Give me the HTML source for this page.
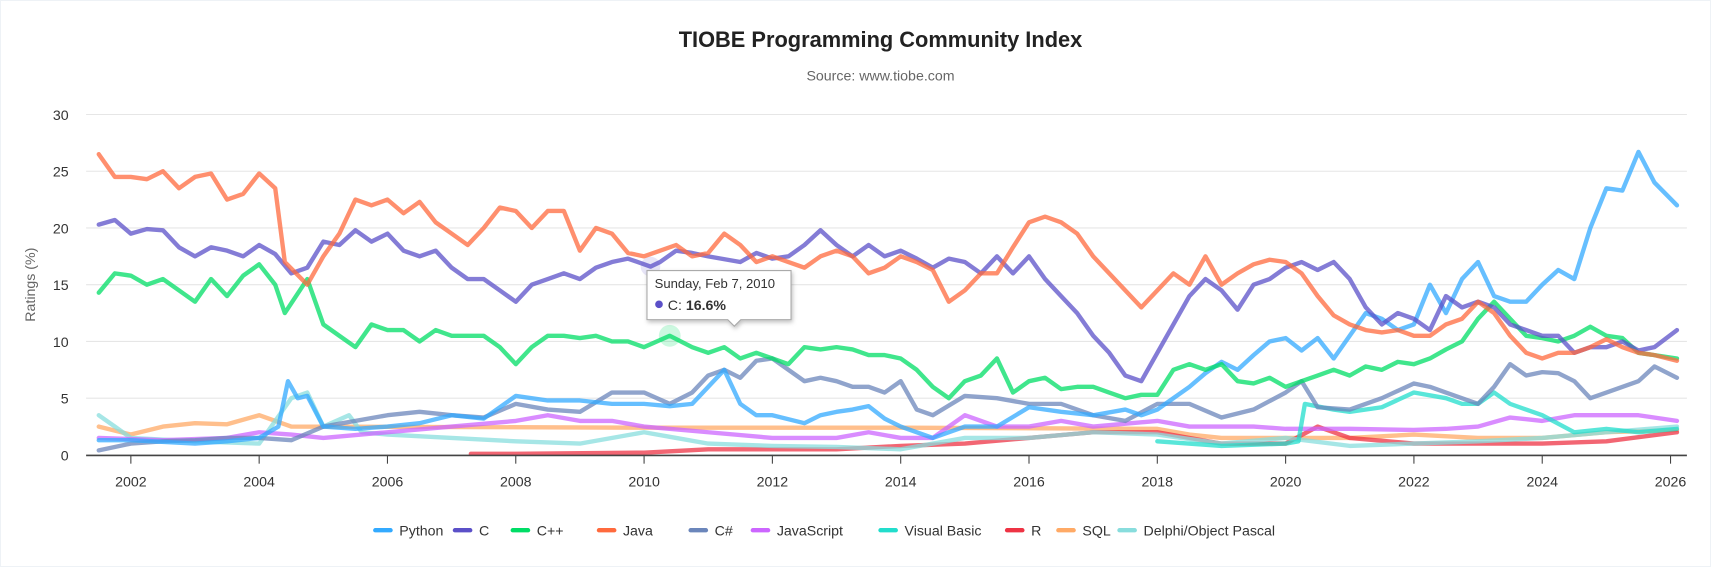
<!DOCTYPE html>
<html><head><meta charset="utf-8"><style>
html,body{margin:0;padding:0;background:#fff;}
body{width:1711px;height:567px;overflow:hidden;font-family:"Liberation Sans",sans-serif;}
#wrap{position:absolute;left:0;top:0;width:1709px;height:565px;border:1px solid #eef2f6;}
svg{position:absolute;left:0;top:0;}
</style></head><body>
<div id="wrap">
<svg id="chart" width="1711" height="567" viewBox="0 0 1568 519.6">
<text x="806" y="42" text-anchor="middle" font-size="20" font-weight="bold" fill="#222">TIOBE Programming Community Index</text>
<text x="806" y="73" text-anchor="middle" font-size="13" fill="#666">Source: www.tiobe.com</text>
<text transform="translate(31,260) rotate(-90)" text-anchor="middle" font-size="13" fill="#666">Ratings (%)</text>
<g id="grid"></g><g id="series"></g><g id="xaxis"></g><g id="legend"></g><g id="tip"></g>
</svg>
</div>
<script>
const yTicks=[0,5,10,15,20,25,30];
const xTicks=[2002,2004,2006,2008,2010,2012,2014,2016,2018,2020,2022,2024,2026];
const seriesNames=["Python","C","C++","Java","C#","JavaScript","Visual Basic","R","SQL","Delphi/Object Pascal"];
const seriesColors=["#33aaff","#5b50c8","#00dd66","#ff6a3d","#6b86bb","#cc66ff","#22ddcc","#ee3344","#ffaa66","#88dddd"];

const javaX=[2001.5,2001.75,2002,2002.25,2002.5,2002.75,2003,2003.25,2003.5,2003.75,2004,2004.25,2004.4,2004.75,2005,2005.25,2005.5,2005.75,2006,2006.25,2006.5,2006.75,2007,2007.25,2007.5,2007.75,2008,2008.25,2008.5,2008.75,2009,2009.25,2009.5,2009.75,2010,2010.25,2010.5,2010.75,2011,2011.25,2011.5,2011.75,2012,2012.25,2012.5,2012.75,2013,2013.25,2013.5,2013.75,2014,2014.25,2014.5,2014.75,2015,2015.25,2015.5,2015.75,2016,2016.25,2016.5,2016.75,2017,2017.25,2017.5,2017.75,2018,2018.25,2018.5,2018.75,2019,2019.25,2019.5,2019.75,2020,2020.25,2020.5,2020.75,2021,2021.25,2021.5,2021.75,2022,2022.25,2022.5,2022.75,2023,2023.25,2023.5,2023.75,2024,2024.25,2024.5,2024.75,2025,2025.25,2025.5,2025.75,2026.1];
const javaY=[26.5,24.5,24.5,24.3,25,23.5,24.5,24.8,22.5,23,24.8,23.5,17,15,17.5,19.5,22.5,22,22.5,21.3,22.3,20.5,19.5,18.5,20,21.8,21.5,20,21.5,21.5,18,20,19.5,17.8,17.5,18,18.5,17.5,17.8,19.5,18.5,17,17.5,17,16.5,17.5,18,17.5,16,16.5,17.5,17,16.3,13.5,14.5,16,16,18.3,20.5,21,20.5,19.5,17.5,16,14.5,13,14.5,16,15,17.5,15,16,16.8,17.2,17,16,14,12.3,11.5,11,10.8,11,10.5,10.5,11.5,12,13.5,12.5,10.5,9,8.5,9,9,9.5,10.2,9.5,9,8.8,8.3];

const cX=[2001.5,2001.75,2002,2002.25,2002.5,2002.75,2003,2003.25,2003.5,2003.75,2004,2004.25,2004.5,2004.75,2005,2005.25,2005.5,2005.75,2006,2006.25,2006.5,2006.75,2007,2007.25,2007.5,2007.75,2008,2008.25,2008.5,2008.75,2009,2009.25,2009.5,2009.75,2010.1,2010.25,2010.5,2010.75,2011,2011.5,2011.75,2012,2012.25,2012.5,2012.75,2013,2013.25,2013.5,2013.75,2014,2014.25,2014.5,2014.75,2015,2015.25,2015.5,2015.75,2016,2016.25,2016.5,2016.75,2017,2017.25,2017.5,2017.75,2018,2018.25,2018.5,2018.75,2019,2019.25,2019.5,2019.75,2020,2020.25,2020.5,2020.75,2021,2021.25,2021.5,2021.75,2022,2022.25,2022.5,2022.75,2023,2023.25,2023.5,2023.75,2024,2024.25,2024.5,2024.75,2025,2025.25,2025.5,2025.75,2026.1];
const cY=[20.3,20.7,19.5,19.9,19.8,18.3,17.5,18.3,18,17.5,18.5,17.7,16,16.5,18.8,18.5,19.8,18.8,19.5,18,17.5,18,16.5,15.5,15.5,14.5,13.5,15,15.5,16,15.5,16.5,17,17.3,16.6,17,18,17.8,17.5,17,17.8,17.3,17.5,18.5,19.8,18.5,17.5,18.5,17.5,18,17.3,16.5,17.3,17,16,17.5,16,17.5,15.5,14,12.5,10.5,9,7,6.5,9,11.5,14,15.5,14.5,12.8,15,15.5,16.5,17,16.3,17,15.5,13,11.5,12.5,12,11,14,13,13.5,13,11.5,11,10.5,10.5,9,9.5,9.5,10,9.2,9.5,11];

const cppX=[2001.5,2001.75,2002,2002.25,2002.5,2002.75,2003,2003.25,2003.5,2003.75,2004,2004.25,2004.4,2004.75,2005,2005.25,2005.5,2005.75,2006,2006.25,2006.5,2006.75,2007,2007.25,2007.5,2007.75,2008,2008.25,2008.5,2008.75,2009,2009.25,2009.5,2009.75,2010,2010.4,2010.75,2011,2011.25,2011.5,2011.75,2012,2012.25,2012.5,2012.75,2013,2013.25,2013.5,2013.75,2014,2014.25,2014.5,2014.75,2015,2015.25,2015.5,2015.75,2016,2016.25,2016.5,2016.75,2017,2017.25,2017.5,2017.75,2018,2018.25,2018.5,2018.75,2019,2019.25,2019.5,2019.75,2020,2020.25,2020.5,2020.75,2021,2021.25,2021.5,2021.75,2022,2022.25,2022.5,2022.75,2023,2023.25,2023.5,2023.75,2024,2024.25,2024.5,2024.75,2025,2025.25,2025.5,2025.75,2026.1];
const cppY=[14.3,16,15.8,15,15.5,14.5,13.5,15.5,14,15.8,16.8,15,12.5,15.5,11.5,10.5,9.5,11.5,11,11,10,11,10.5,10.5,10.5,9.5,8,9.5,10.5,10.5,10.3,10.5,10,10,9.5,10.5,9.5,9,9.5,8.5,9,8.5,8,9.5,9.3,9.5,9.3,8.8,8.8,8.5,7.5,6,5,6.5,7,8.5,5.5,6.5,6.8,5.8,6,6,5.5,5,5.3,5.3,7.5,8,7.5,8,6.5,6.3,6.8,6,6.5,7,7.5,7,7.8,7.5,8.2,8,8.5,9.3,10,12,13.5,12,10.5,10.3,10,10.5,11.3,10.5,10.3,9,8.8,8.5];

const pyX=[2001.5,2002,2003,2003.5,2004,2004.3,2004.45,2004.6,2004.75,2005,2005.5,2006,2006.5,2007,2007.5,2008,2008.5,2009,2009.5,2010,2010.4,2010.75,2011,2011.25,2011.5,2011.75,2012,2012.5,2012.75,2013,2013.25,2013.5,2013.75,2014,2014.5,2015,2015.5,2016,2016.5,2017,2017.5,2017.75,2018,2018.25,2018.5,2018.75,2019,2019.25,2019.5,2019.75,2020,2020.25,2020.5,2020.75,2021,2021.25,2021.5,2021.75,2022,2022.25,2022.5,2022.75,2023,2023.25,2023.5,2023.75,2024,2024.25,2024.5,2024.75,2025,2025.25,2025.5,2025.75,2026.1];
const pyY=[1.3,1.3,1.0,1.2,1.5,2.5,6.5,5,5.2,2.5,2.3,2.5,2.8,3.5,3.2,5.2,4.8,4.8,4.5,4.5,4.3,4.5,6,7.5,4.5,3.5,3.5,2.8,3.5,3.8,4,4.3,3.2,2.5,1.5,2.5,2.5,4.2,3.8,3.5,4,3.5,4,5,6,7.2,8.2,7.5,8.8,10,10.3,9.2,10.3,8.5,10.5,12.5,12,11,11.5,15,12.5,15.5,17,14,13.5,13.5,15,16.3,15.5,20,23.5,23.3,26.7,24,22];

const csX=[2001.5,2002,2002.5,2003,2003.5,2004,2004.5,2005,2005.5,2006,2006.5,2007,2007.5,2008,2008.5,2009,2009.5,2010,2010.4,2010.75,2011,2011.25,2011.5,2011.75,2012,2012.25,2012.5,2012.75,2013,2013.25,2013.5,2013.75,2014,2014.25,2014.5,2015,2015.5,2016,2016.5,2017,2017.5,2018,2018.5,2019,2019.5,2020,2020.25,2020.5,2021,2021.5,2022,2022.25,2022.5,2023,2023.25,2023.5,2023.75,2024,2024.25,2024.5,2024.75,2025,2025.5,2025.75,2026.1];
const csY=[0.4,1.0,1.2,1.3,1.5,1.5,1.3,2.5,3,3.5,3.8,3.5,3.3,4.5,4,3.8,5.5,5.5,4.5,5.5,7,7.5,6.8,8.3,8.5,7.5,6.5,6.8,6.5,6,6,5.5,6.5,4,3.5,5.2,5,4.5,4.5,3.5,3,4.5,4.5,3.3,4,5.5,6.5,4.2,4,5,6.3,6,5.5,4.5,6,8,7,7.3,7.2,6.5,5,5.5,6.5,7.8,6.8];

const jsX=[2001.5,2002.5,2003.5,2004,2004.5,2005,2006,2007,2008,2008.5,2009,2009.5,2010,2011,2012,2013,2013.5,2014,2014.5,2015,2015.5,2016,2016.5,2017,2018,2018.5,2019,2019.5,2020,2020.5,2021,2022,2022.5,2023,2023.5,2024,2024.5,2025,2025.5,2026.1];
const jsY=[1.5,1.3,1.5,2,1.8,1.5,2,2.5,3,3.5,3,3,2.5,2,1.5,1.5,2,1.5,1.5,3.5,2.5,2.5,3,2.5,3,2.5,2.5,2.5,2.3,2.3,2.3,2.2,2.3,2.5,3.3,3,3.5,3.5,3.5,3];

const vbX=[2018,2019,2020,2020.2,2020.3,2020.75,2021,2021.5,2022,2022.5,2022.75,2023,2023.25,2023.5,2024,2024.5,2025,2025.5,2026.1];
const vbY=[1.2,0.8,1.0,1.2,4.5,4,3.8,4.2,5.5,5,4.5,4.5,5.5,4.5,3.5,2.0,2.3,2.0,2.3];

const rX=[2007.3,2008,2010,2011,2012,2013,2014,2015,2016,2017,2018,2019,2020,2020.5,2021,2022,2023,2024,2025,2026.1];
const rY=[0.1,0.1,0.2,0.5,0.5,0.5,0.8,1.0,1.5,2.0,2.0,1.0,1.0,2.5,1.5,1.0,1.0,1.0,1.2,2.0];

const sqlX=[2001.5,2002,2002.5,2003,2003.5,2004,2004.5,2010,2014,2018,2018.5,2019,2020,2021,2022,2023,2024,2025,2026.1];
const sqlY=[2.5,1.8,2.5,2.8,2.7,3.5,2.5,2.4,2.4,2.3,1.8,1.5,1.5,1.5,1.8,1.5,1.5,2,2.2];

const delX=[2001.5,2001.75,2002,2003,2004,2004.5,2004.75,2005,2005.4,2005.6,2006,2007,2008,2009,2010,2010.5,2011,2012,2013,2014,2015,2016,2017,2018,2019,2020,2021,2022,2023,2024,2025,2026.1];
const delY=[3.5,2.5,1.5,1.2,1.0,5,5.5,2.5,3.5,2,1.8,1.5,1.2,1.0,2.0,1.5,1.0,0.8,0.7,0.5,1.5,1.5,2.0,1.8,1.0,1.5,0.8,1.0,1.2,1.5,2,2.5];

const tipDate="Sunday, Feb 7, 2010";
const tipValue=16.6;

const NS="http://www.w3.org/2000/svg";
const X0=78,X1=1545,Y0=416,Y1=104;
function xs(y){return 119+(y-2002)*(1530-119)/24;}
function ys(v){return Y0-(v/30)*(Y0-Y1);}
function mk(tag,attrs,parent){const e=document.createElementNS(NS,tag);for(const k in attrs)e.setAttribute(k,attrs[k]);parent.appendChild(e);return e;}

const grid=document.getElementById('grid');
yTicks.forEach(t=>{
  const l=mk('line',{x1:X0,x2:X1,y1:ys(t),y2:ys(t),stroke:'#e6e6e6','stroke-width':1},grid);
  
  
  const tx=mk('text',{x:62,y:ys(t)+5,'text-anchor':'end','font-size':13,fill:'#333'},grid);
  tx.textContent=t;
  
  
});

const sg=document.getElementById('series');
const allX=[pyX,cX,cppX,javaX,csX,jsX,vbX,rX,sqlX,delX];
const allY=[pyY,cY,cppY,javaY,csY,jsY,vbY,rY,sqlY,delY];
const drawOrder=[8,7,9,5,6,4,0,2,1,3];
drawOrder.forEach(i=>{
  const d=allX[i].map((x,j)=>(j?'L':'M')+xs(x).toFixed(1)+','+ys(allY[i][j]).toFixed(1)).join(' ');
  const p=mk('path',{d:d,fill:'none',stroke:seriesColors[i],'stroke-width':4,'stroke-opacity':0.75,'stroke-linejoin':'round','stroke-linecap':'round'},sg);
  
  
});

const xa=document.getElementById('xaxis');
const ax=mk('line',{x1:X0,x2:X1,y1:Y0+0.5,y2:Y0+0.5,stroke:'#444','stroke-width':1.5},xa);


xTicks.forEach(t=>{
  const tk=mk('line',{x1:xs(t),x2:xs(t),y1:Y0,y2:Y0+8,stroke:'#444','stroke-width':1},xa);
  
  
  const tx=mk('text',{x:xs(t),y:Y0+29,'text-anchor':'middle','font-size':13,fill:'#333'},xa);
  tx.textContent=t;
  
  
});

const lg=document.getElementById('legend');
const legendX=[343,416,469,548,632,689,806,922,969,1025];
seriesNames.forEach((n,i)=>{
  const g=mk('g',{},lg);
  
  
  mk('line',{x1:legendX[i],x2:legendX[i]+14,y1:485,y2:485,stroke:seriesColors[i],'stroke-width':4,'stroke-linecap':'round'},g);
  const t=mk('text',{x:legendX[i]+22,y:490,'font-size':13,fill:'#333'},g);
  t.textContent=n;
});

const tg=document.getElementById('tip');
const h1=mk('circle',{cx:xs(2010.1),cy:ys(tipValue),r:9,fill:'#5b50c8','fill-opacity':0.15},tg);


const h2=mk('circle',{cx:xs(2010.4),cy:ys(10.5),r:10,fill:'#00dd66','fill-opacity':0.2},tg);


const box=mk('path',{d:'M592,247 h132 v45 h-46 l-6,6 l-6,-6 h-74 Z',fill:'#fff',stroke:'#aaa','stroke-width':1,style:'filter:drop-shadow(1px 2px 2px rgba(0,0,0,0.25))'},tg);


const t1=mk('text',{x:599,y:263,'font-size':12,fill:'#333'},tg);
t1.textContent=tipDate;


mk('circle',{cx:603,cy:278,r:3.5,fill:'#5b50c8'},tg);
const t2=mk('text',{x:611,y:283,'font-size':13,fill:'#333'},tg);
t2.innerHTML='C: <tspan font-weight="bold">'+tipValue+'%</tspan>';


</script>
</body></html>
